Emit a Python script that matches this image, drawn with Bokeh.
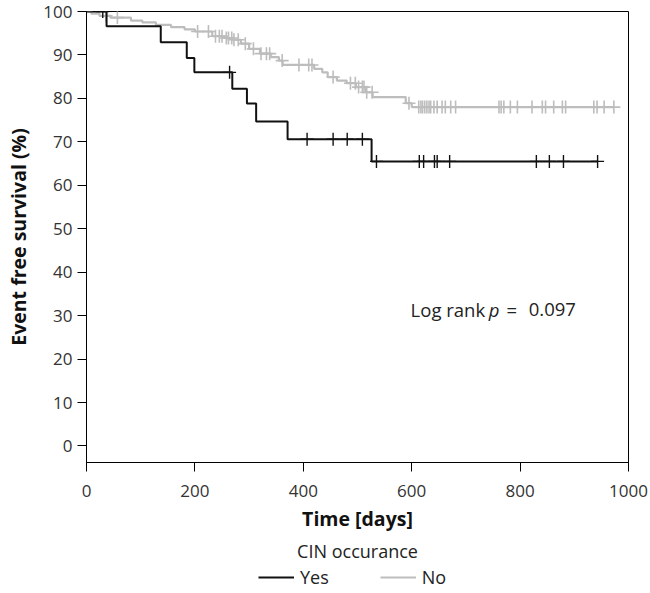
import numpy as np
from bokeh.plotting import figure
from bokeh.layouts import column
from bokeh.models import Range1d, Legend, LegendItem, Label, FixedTicker, Title
from bokeh.embed import file_html
from bokeh.resources import INLINE

FONT = "Open Sans"

# ---- data: Kaplan-Meier curves ----
# CIN occurance = Yes (black)
yes_event_days = [37, 137, 185, 199, 269, 296, 313, 371, 526]
yes_surv_after = [96.6, 92.9, 89.3, 86.0, 82.2, 78.8, 74.7, 70.6, 65.5]
yes_censor_days = [30, 264, 407, 455, 481, 509, 535, 614, 622, 642, 647, 670,
                   830, 854, 880, 943]
yes_end_day = 943

# CIN occurance = No (grey)
no_event_days = [9, 24, 44, 82, 103, 128, 156, 181, 200, 232, 255, 270, 285,
                 300, 320, 340, 355, 362, 420, 435, 445, 462, 480, 497, 515,
                 528, 589, 600]
no_surv_after = [99.5, 99.0, 98.6, 97.9, 97.5, 96.9, 96.4, 95.9, 95.4, 94.3,
                 93.9, 93.5, 92.6, 91.4, 90.3, 89.5, 88.7, 87.7, 86.8, 86.0,
                 84.9, 84.1, 83.5, 82.6, 81.4, 80.3, 78.9, 78.0]
no_censor_days = [36, 57, 205, 225, 238, 245, 250, 258, 262, 268, 272, 280,
                  293, 308, 322, 332, 338, 361, 392, 410, 416, 455, 487, 496,
                  502, 509, 512, 517, 527, 595, 613, 617, 620, 624, 628, 632,
                  635, 641, 647, 656, 662, 672, 681, 761, 765, 770, 782, 795,
                  822, 841, 847, 862, 878, 884, 936, 942, 955, 973]
no_end_day = 973

x_ticks = [0, 200, 400, 600, 800, 1000]
y_ticks = [0, 10, 20, 30, 40, 50, 60, 70, 80, 90, 100]

log_rank_text = ["Log rank", "p", "=", "0.097"]
legend_title = "CIN occurance"
legend_labels = ["Yes", "No"]

BLACK = "#111111"
GREY = "#bdbdbd"


def step_xy(events, levels, end):
    xs = [0] + list(events) + [end]
    ys = [100.0] + list(levels) + [levels[-1]]
    return xs, ys


def surv_at(days, events, levels):
    ev = np.asarray(events)
    lv = np.concatenate([[100.0], np.asarray(levels)])
    idx = np.searchsorted(ev, np.asarray(days), side="right")
    return lv[idx]


p = figure(width=648, height=564, output_backend="svg", toolbar_location=None,
           x_range=Range1d(0, 1000), y_range=Range1d(-3.8, 100),
           min_border_left=86, min_border_right=20, min_border_top=11,
           min_border_bottom=101)
p.grid.visible = False
p.outline_line_color = "black"
p.outline_line_width = 1
p.background_fill_color = "white"
p.border_fill_color = "white"

for ax in (p.xaxis[0], p.yaxis[0]):
    ax.axis_line_color = "black"
    ax.major_tick_line_color = "black"
    ax.minor_tick_line_color = None
    ax.major_tick_out = 9
    ax.major_tick_in = 0
    ax.major_label_text_font = FONT
    ax.major_label_text_font_size = "17px"
    ax.major_label_text_color = "#333333"
    ax.axis_label_text_font = FONT
    ax.axis_label_text_font_size = "19.5px"
    ax.axis_label_text_font_style = "bold"
    ax.axis_label_text_color = "#111111"

p.xaxis.ticker = FixedTicker(ticks=x_ticks)
p.yaxis.ticker = FixedTicker(ticks=y_ticks)
p.xaxis.axis_label = "Time [days]"
p.yaxis.axis_label = "Event free survival (%)"
p.xaxis.major_label_standoff = 13
p.yaxis.major_label_standoff = 5
p.xaxis.axis_label_standoff = 5
p.yaxis.axis_label_standoff = 8

# grey curve (No)
gx, gy = step_xy(no_event_days, no_surv_after, no_end_day)
r_no = p.step(gx, gy, mode="after", line_color=GREY, line_width=2.2)
p.scatter(no_censor_days, surv_at(no_censor_days, no_event_days, no_surv_after),
          marker="cross", size=13, line_color=GREY, line_width=1.6)

# black curve (Yes)
bx, by = step_xy(yes_event_days, yes_surv_after, yes_end_day)
r_yes = p.step(bx, by, mode="after", line_color=BLACK, line_width=2)
p.scatter(yes_censor_days, surv_at(yes_censor_days, yes_event_days, yes_surv_after),
          marker="cross", size=13, line_color=BLACK, line_width=1.4)

# log-rank annotation
common = dict(y=31.3, text_baseline="middle", text_align="left",
              text_font=FONT, text_font_size="18.5px", text_color="#222222")
p.add_layout(Label(x=598, text=log_rank_text[0], **common))
p.add_layout(Label(x=742, text=log_rank_text[1], text_font_style="italic", **common))
p.add_layout(Label(x=775, text=log_rank_text[2], **common))
p.add_layout(Label(x=816, text=log_rank_text[3], **common))

# legend title below the x axis
p.add_layout(Title(text=legend_title, align="center", text_font=FONT,
                   text_font_size="18px", text_font_style="normal",
                   text_color="#222222", standoff=4), "below")

# legend strip (separate small figure below the chart, same frame as p)
lg = figure(width=648, height=28, output_backend="svg", toolbar_location=None,
            x_axis_type=None, y_axis_type=None,
            x_range=Range1d(0, 1), y_range=Range1d(0, 1),
            min_border_left=86, min_border_right=20, min_border_top=0,
            min_border_bottom=0)
lg.grid.visible = False
lg.outline_line_color = None
lg.border_fill_color = "white"
l_yes = lg.line([np.nan], [np.nan], line_color=BLACK, line_width=2)
l_no = lg.line([np.nan], [np.nan], line_color=GREY, line_width=2.2)
legend = Legend(items=[LegendItem(label=legend_labels[0], renderers=[l_yes]),
                       LegendItem(label=legend_labels[1], renderers=[l_no])],
                orientation="horizontal", location=(172, 3),
                padding=0, margin=0, spacing=51, glyph_width=36,
                label_standoff=6, border_line_color=None,
                background_fill_alpha=0, label_text_font=FONT,
                label_text_font_size="18px", label_text_color="#222222")
lg.add_layout(legend, "center")

layout = column(p, lg, spacing=0)
open("out.html", "w").write(file_html(layout, INLINE))
